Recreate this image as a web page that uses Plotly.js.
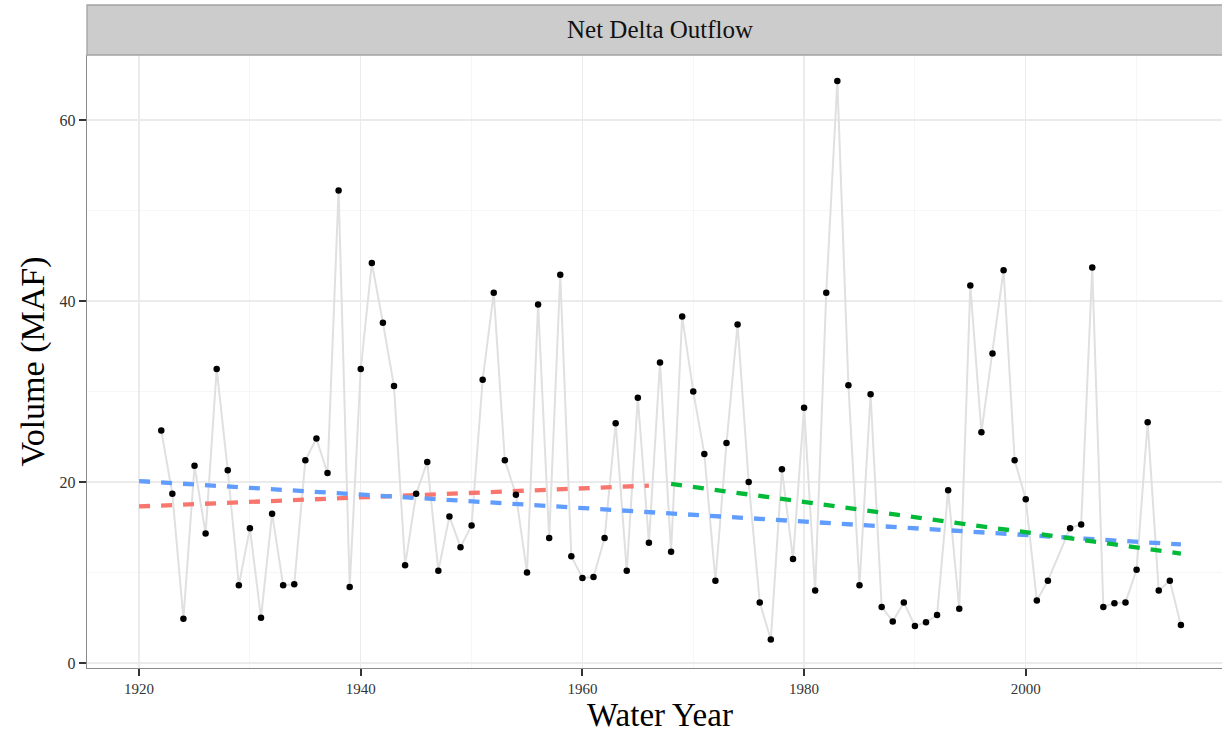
<!DOCTYPE html>
<html>
<head>
<meta charset="utf-8">
<script src="https://cdn.plot.ly/plotly-3.0.1.min.js"></script>
<style>
html, body { margin: 0; padding: 0; overflow: hidden; background: #ffffff; }
#chart { width: 1240px; height: 737px; }
</style>
</head>
<body>
<div id="chart"></div>
<script>
// Net Delta Outflow by water year (MAF); 2003 absent from the series
var years = [1922,1923,1924,1925,1926,1927,1928,1929,1930,1931,1932,1933,1934,1935,1936,1937,1938,1939,
  1940,1941,1942,1943,1944,1945,1946,1947,1948,1949,1950,1951,1952,1953,1954,1955,1956,1957,1958,1959,
  1960,1961,1962,1963,1964,1965,1966,1967,1968,1969,1970,1971,1972,1973,1974,1975,1976,1977,1978,1979,
  1980,1981,1982,1983,1984,1985,1986,1987,1988,1989,1990,1991,1992,1993,1994,1995,1996,1997,1998,1999,
  2000,2001,2002,2004,2005,2006,2007,2008,2009,2010,2011,2012,2013,2014];
var volumes = [25.7,18.7,4.9,21.8,14.3,32.5,21.3,8.6,14.9,5.0,16.5,8.6,8.7,22.4,24.8,21.0,52.2,8.4,
  32.5,44.2,37.6,30.6,10.8,18.7,22.2,10.2,16.2,12.8,15.2,31.3,40.9,22.4,18.6,10.0,39.6,13.8,42.9,11.8,
  9.4,9.5,13.8,26.5,10.2,29.3,13.3,33.2,12.3,38.3,30.0,23.1,9.1,24.3,37.4,20.0,6.7,2.6,21.4,11.5,
  28.2,8.0,40.9,64.3,30.7,8.6,29.7,6.2,4.6,6.7,4.1,4.5,5.3,19.1,6.0,41.7,25.5,34.2,43.4,22.4,
  18.1,6.9,9.1,14.9,15.3,43.7,6.2,6.6,6.7,10.3,26.6,8.0,9.1,4.2];

// Trend lines (endpoints)
var trendPreYears = [1920, 1966];
var trendPreValues = [17.3, 19.6];
var trendPostYears = [1968, 2014];
var trendPostValues = [19.8, 12.1];
var trendAllYears = [1920, 2014];
var trendAllValues = [20.1, 13.1];

var xTickVals = [1920, 1940, 1960, 1980, 2000];
var xTickText = ["1920", "1940", "1960", "1980", "2000"];
var yTickVals = [0, 20, 40, 60];
var yTickText = ["0", "20", "40", "60"];

var stripTitle = "Net Delta Outflow";
var xTitle = "Water Year";
var yTitle = "Volume (MAF)";

var serif = "Liberation Serif, Times New Roman, serif";
var dashPattern = "11px,11px";

var traces = [
  { x: years, y: volumes, type: "scatter", mode: "lines",
    line: { color: "#e0e0e0", width: 2 }, hoverinfo: "skip", showlegend: false },
  { x: trendPreYears, y: trendPreValues, type: "scatter", mode: "lines",
    line: { color: "#F8766D", width: 4.3, dash: dashPattern }, showlegend: false },
  { x: trendAllYears, y: trendAllValues, type: "scatter", mode: "lines",
    line: { color: "#619CFF", width: 4.3, dash: dashPattern }, showlegend: false },
  { x: trendPostYears, y: trendPostValues, type: "scatter", mode: "lines",
    line: { color: "#00BA38", width: 4.3, dash: dashPattern }, showlegend: false },
  { x: years, y: volumes, type: "scatter", mode: "markers",
    marker: { color: "#000000", size: 6.5 }, showlegend: false }
];

var plotH = 737 - 55 - 69;
// the reference panel continues a little past the right edge of the picture
var layout = {
  width: 1240, height: 737,
  margin: { l: 87, r: 7, t: 55, b: 69, pad: 0 },
  paper_bgcolor: "#ffffff", plot_bgcolor: "#ffffff",
  font: { family: serif, color: "#333333" },
  showlegend: false,
  xaxis: {
    range: [1915.3, 2018.7], autorange: false,
    tickvals: xTickVals, ticktext: xTickText,
    tickfont: { family: serif, size: 15, color: "#333333" },
    ticks: "outside", ticklen: 7, tickwidth: 2, tickcolor: "#333333",
    showgrid: true, gridcolor: "#ebebeb", gridwidth: 1.2,
    minor: { dtick: 10, tick0: 1910, showgrid: true, gridcolor: "#f6f6f6", gridwidth: 1, ticks: "" },
    zeroline: false,
    showline: true, linecolor: "#8a8a8a", linewidth: 1.3, mirror: false,
    title: { text: xTitle, font: { family: serif, size: 33, color: "#000000" }, standoff: 4 }
  },
  yaxis: {
    range: [-0.55, 67.18], autorange: false,
    tickvals: yTickVals, ticktext: yTickText,
    tickfont: { family: serif, size: 16, color: "#333333" },
    ticks: "outside", ticklen: 7, tickwidth: 2, tickcolor: "#333333",
    showgrid: true, gridcolor: "#ebebeb", gridwidth: 1.2,
    minor: { dtick: 10, tick0: 10, showgrid: true, gridcolor: "#f6f6f6", gridwidth: 1, ticks: "" },
    zeroline: false,
    showline: true, linecolor: "#8a8a8a", linewidth: 1.3, mirror: false,
    title: { text: yTitle, font: { family: serif, size: 34, color: "#000000" }, standoff: 4 }
  },
  shapes: [
    { type: "rect", xref: "paper", yref: "paper", x0: 0, x1: 1.02, y0: 1, y1: 1 + 50 / plotH,
      fillcolor: "#cccccc", line: { color: "#a3a3a3", width: 1.3 }, layer: "above" }
  ],
  annotations: [
    { text: stripTitle, xref: "paper", yref: "paper", x: 0.5, y: 1 + 25 / plotH,
      xanchor: "center", yanchor: "middle", showarrow: false,
      font: { family: serif, size: 25, color: "#111111" } }
  ]
};

Plotly.newPlot("chart", traces, layout, { displayModeBar: false, staticPlot: true });
</script>
</body>
</html>
